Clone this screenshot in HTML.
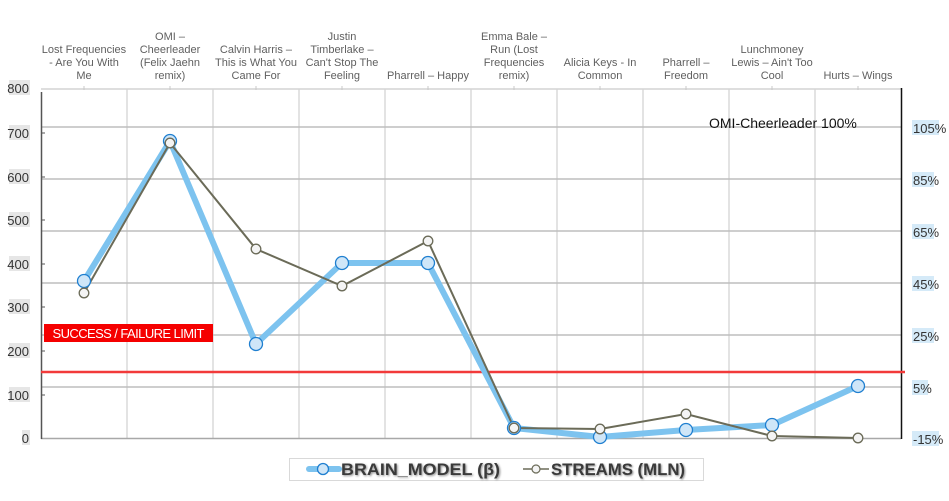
<!DOCTYPE html>
<html><head><meta charset="utf-8"><style>
html,body{margin:0;padding:0;background:#fff;}
svg{display:block;font-family:"Liberation Sans",sans-serif;}
</style></head><body>
<svg width="949" height="501" viewBox="0 0 949 501" xmlns="http://www.w3.org/2000/svg">
<rect width="949" height="501" fill="#fff"/>
<!-- vertical gridlines -->
<g stroke="#dadada" stroke-width="1.5">
<line x1="127" y1="89" x2="127" y2="438"/><line x1="213" y1="89" x2="213" y2="438"/>
<line x1="299" y1="89" x2="299" y2="438"/><line x1="385" y1="89" x2="385" y2="438"/>
<line x1="471" y1="89" x2="471" y2="438"/><line x1="557" y1="89" x2="557" y2="438"/>
<line x1="643" y1="89" x2="643" y2="438"/><line x1="729" y1="89" x2="729" y2="438"/>
<line x1="815" y1="89" x2="815" y2="438"/>
</g>
<!-- horizontal gridlines -->
<g stroke="#bdbdbd" stroke-width="1.5">
<line x1="41" y1="127" x2="901" y2="127"/><line x1="41" y1="179" x2="901" y2="179"/>
<line x1="41" y1="231" x2="901" y2="231"/><line x1="41" y1="283" x2="901" y2="283"/>
<line x1="41" y1="335" x2="901" y2="335"/><line x1="41" y1="387" x2="901" y2="387"/>
</g>
<!-- top axis -->
<line x1="41" y1="89" x2="901" y2="89" stroke="#d4d4d4" stroke-width="1.5"/>
<g stroke="#c8c8c8" stroke-width="1">
<line x1="84" y1="86" x2="84" y2="90"/><line x1="170" y1="86" x2="170" y2="90"/>
<line x1="256" y1="86" x2="256" y2="90"/><line x1="342" y1="86" x2="342" y2="90"/>
<line x1="428" y1="86" x2="428" y2="90"/><line x1="514" y1="86" x2="514" y2="90"/>
<line x1="600" y1="86" x2="600" y2="90"/><line x1="686" y1="86" x2="686" y2="90"/>
<line x1="772" y1="86" x2="772" y2="90"/><line x1="858" y1="86" x2="858" y2="90"/>
</g>
<!-- bottom axis -->
<line x1="41" y1="438.5" x2="901" y2="438.5" stroke="#a8a8a8" stroke-width="1.5"/>
<!-- left axis -->
<line x1="41.5" y1="92" x2="41.5" y2="439" stroke="#555" stroke-width="1.5"/>
<g stroke="#555" stroke-width="1">
<line x1="41" y1="133" x2="45" y2="133"/><line x1="41" y1="177" x2="45" y2="177"/>
<line x1="41" y1="220" x2="45" y2="220"/><line x1="41" y1="264" x2="45" y2="264"/>
<line x1="41" y1="307" x2="45" y2="307"/><line x1="41" y1="351" x2="45" y2="351"/>
<line x1="41" y1="395" x2="45" y2="395"/>
</g>
<!-- right axis -->
<line x1="901.5" y1="88" x2="901.5" y2="439" stroke="#111" stroke-width="1.5"/>
<!-- left labels -->
<g font-size="13" fill="#333" text-anchor="end">
<rect x="9" y="80" width="21" height="15" fill="#e6e6e6"/><text x="29" y="93">800</text>
<rect x="9" y="125" width="21" height="15" fill="#e6e6e6"/><text x="29" y="138">700</text>
<rect x="9" y="169" width="21" height="15" fill="#e6e6e6"/><text x="29" y="182">600</text>
<rect x="9" y="212" width="21" height="15" fill="#e6e6e6"/><text x="29" y="225">500</text>
<rect x="9" y="256" width="21" height="15" fill="#e6e6e6"/><text x="29" y="269">400</text>
<rect x="9" y="299" width="21" height="15" fill="#e6e6e6"/><text x="29" y="312">300</text>
<rect x="9" y="343" width="21" height="15" fill="#e6e6e6"/><text x="29" y="356">200</text>
<rect x="9" y="387" width="21" height="15" fill="#e6e6e6"/><text x="29" y="400">100</text>
<rect x="22" y="430" width="8" height="15" fill="#e6e6e6"/><text x="29" y="443">0</text>
</g>
<!-- right labels -->
<g font-size="13" fill="#333">
<rect x="912" y="120" width="27" height="15" fill="#d5eaf8"/><text x="913" y="133">105%</text>
<rect x="912" y="172" width="22" height="15" fill="#d5eaf8"/><text x="913" y="185">85%</text>
<rect x="912" y="224" width="22" height="15" fill="#d5eaf8"/><text x="913" y="237">65%</text>
<rect x="912" y="276" width="22" height="15" fill="#d5eaf8"/><text x="913" y="289">45%</text>
<rect x="912" y="328" width="22" height="15" fill="#d5eaf8"/><text x="913" y="341">25%</text>
<rect x="912" y="380" width="16" height="15" fill="#d5eaf8"/><text x="913" y="393">5%</text>
<rect x="912" y="431" width="27" height="15" fill="#d5eaf8"/><text x="913" y="444">-15%</text>
</g>
<!-- category labels -->
<g font-size="11" fill="#606060" text-anchor="middle">
<text x="84" y="53">Lost Frequencies</text><text x="84" y="66">- Are You With</text><text x="84" y="79">Me</text>
<text x="170" y="40">OMI –</text><text x="170" y="53">Cheerleader</text><text x="170" y="66">(Felix Jaehn</text><text x="170" y="79">remix)</text>
<text x="256" y="53">Calvin Harris –</text><text x="256" y="66">This is What You</text><text x="256" y="79">Came For</text>
<text x="342" y="40">Justin</text><text x="342" y="53">Timberlake –</text><text x="342" y="66">Can't Stop The</text><text x="342" y="79">Feeling</text>
<text x="428" y="79">Pharrell – Happy</text>
<text x="514" y="40">Emma Bale –</text><text x="514" y="53">Run (Lost</text><text x="514" y="66">Frequencies</text><text x="514" y="79">remix)</text>
<text x="600" y="66">Alicia Keys - In</text><text x="600" y="79">Common</text>
<text x="686" y="66">Pharrell –</text><text x="686" y="79">Freedom</text>
<text x="772" y="53">Lunchmoney</text><text x="772" y="66">Lewis – Ain't Too</text><text x="772" y="79">Cool</text>
<text x="858" y="79">Hurts – Wings</text>
</g>
<!-- red limit line -->
<line x1="41" y1="372" x2="905" y2="372" stroke="#f23a3a" stroke-width="2.5"/>
<rect x="44" y="324" width="169" height="18" fill="#f50000"/>
<text x="128.5" y="338" font-size="13" fill="#fff" text-anchor="middle" textLength="152" lengthAdjust="spacing">SUCCESS  / FAILURE LIMIT</text>
<!-- annotation -->
<text x="709" y="128" font-size="14" fill="#111">OMI-Cheerleader 100%</text>
<!-- blue series -->
<polyline points="84,281 170,141 256,344 342,263 428,263 514,428 600,437 686,430 772,425 858,386" fill="none" stroke="#7dc3ef" stroke-width="6" stroke-linejoin="round"/>
<!-- gray series -->
<polyline points="84,293 170,143 256,249 342,286 428,241 514,428 600,429 686,414 772,436 858,438" fill="none" stroke="#6b6b58" stroke-width="2"/>
<g fill="#cfe6f8" stroke="#1f7fd0" stroke-width="1.3">
<circle cx="84" cy="281" r="6.5"/><circle cx="170" cy="141" r="6.5"/><circle cx="256" cy="344" r="6.5"/>
<circle cx="342" cy="263" r="6.5"/><circle cx="428" cy="263" r="6.5"/><circle cx="514" cy="428" r="6.5"/>
<circle cx="600" cy="437" r="6.5"/><circle cx="686" cy="430" r="6.5"/><circle cx="772" cy="425" r="6.5"/>
<circle cx="858" cy="386" r="6.5"/>
</g>
<g fill="#f4f4f4" stroke="#6b6b58" stroke-width="1.3">
<circle cx="84" cy="293" r="4.8"/><circle cx="170" cy="143" r="4.8"/><circle cx="256" cy="249" r="4.8"/>
<circle cx="342" cy="286" r="4.8"/><circle cx="428" cy="241" r="4.8"/><circle cx="514" cy="428" r="4.8"/>
<circle cx="600" cy="429" r="4.8"/><circle cx="686" cy="414" r="4.8"/><circle cx="772" cy="436" r="4.8"/>
<circle cx="858" cy="438" r="4.8"/>
</g>
<!-- legend -->
<rect x="289.5" y="458.5" width="414" height="22" fill="#fff" stroke="#d9d9d9" stroke-width="1"/>
<line x1="309" y1="469" x2="339" y2="469" stroke="#7dc3ef" stroke-width="6" stroke-linecap="round"/>
<circle cx="323" cy="469" r="5.5" fill="#cfe6f8" stroke="#1f7fd0" stroke-width="1.3"/>
<line x1="523" y1="469" x2="549" y2="469" stroke="#6b6b58" stroke-width="1.5"/>
<circle cx="536" cy="469" r="4" fill="#f4f4f4" stroke="#6b6b58" stroke-width="1.2"/>
<g font-size="17" font-weight="bold" fill="#3a3a3a" style="text-shadow:1px 1px 2px rgba(0,0,0,0.45)">
<text x="341" y="475" textLength="159" lengthAdjust="spacingAndGlyphs">BRAIN_MODEL  (β)</text>
<text x="551" y="475" textLength="134" lengthAdjust="spacingAndGlyphs">STREAMS (MLN)</text>
</g>
</svg>
</body></html>
